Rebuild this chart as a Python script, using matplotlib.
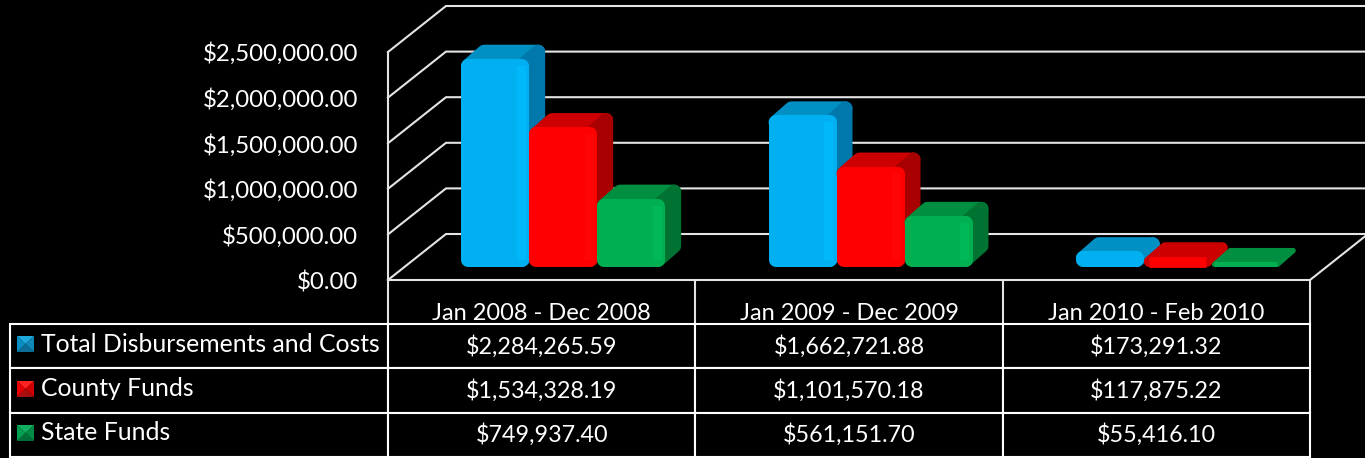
import matplotlib
matplotlib.use("Agg")
import matplotlib.pyplot as plt
from matplotlib.patches import Polygon
from matplotlib.transforms import Affine2D

categories = ["Jan 2008 - Dec 2008", "Jan 2009 - Dec 2009", "Jan 2010 - Feb 2010"]
series_names = ["Total Disbursements and Costs", "County Funds", "State Funds"]
total_costs = [2284265.59, 1662721.88, 173291.32]
county_funds = [1534328.19, 1101570.18, 117875.22]
state_funds = [749937.40, 561151.70, 55416.10]
y_ticks = [0, 500000, 1000000, 1500000, 2000000, 2500000]

series = [total_costs, county_funds, state_funds]
front_colors = ["#00B0F0", "#FF0000", "#00B050"]
light_colors = ["#00B8FA", "#FF0505", "#00B856"]
top_colors = ["#0090C4", "#CC0000", "#008F40"]
side_colors = ["#0078AC", "#A80000", "#007232"]
key_shades = [["#1FA8DC", "#0F88B8", "#0C6E96", "#0A8FC4"],
              ["#FF2020", "#D00000", "#A81010", "#E80000"],
              ["#10B060", "#008C44", "#007038", "#00A050"]]

W, H = 1365, 458
plt.rcParams["font.family"] = ["Lato", "DejaVu Sans"]
fig = plt.figure(figsize=(W / 100, H / 100), dpi=100, facecolor="black")
L, R, T, B = 388, 1310, 52, 280
ax = fig.add_axes([L / W, 1 - B / H, (R - L) / W, (B - T) / H], facecolor="black")
ax.set_xlim(0, 3)
ax.set_ylim(0, 2500000)
for s in ax.spines.values():
    s.set_visible(False)

px_x = 3 / (R - L)
px_y = 2500000 / (B - T)
wall_dx, wall_dy = 58 * px_x, 46 * px_y
line_c, line_w = "#E4E4E4", 1.5

# wall, floor and side grid
for v in y_ticks:
    ax.plot([0, wall_dx, 3 + wall_dx], [v, v + wall_dy, v + wall_dy],
            color=line_c, lw=line_w, clip_on=False, zorder=1, solid_joinstyle="miter")
ax.plot([0, 0], [0, 2500000], color=line_c, lw=line_w, clip_on=False, zorder=1)
ax.plot([0, 3, 3 + wall_dx], [0, 0, wall_dy], color=line_c, lw=line_w, clip_on=False, zorder=1)

# bars
bar_w = 68 * px_x
shift = 21.5 * px_x
base = 13 * px_y
dx, dy = 16 * px_x, 14 * px_y
for j, vals in enumerate(series):
    for i, v in enumerate(vals):
        cx = i + 0.5 + shift + (j - 1) * bar_w
        h_px = v / px_y
        r = min(7.0, h_px / 2)
        rx, ry = r * px_x, r * px_y
        x0, x1 = cx - bar_w / 2 + rx, cx + bar_w / 2 - rx
        y0, y1 = base + ry, base + v - ry
        lw = 2 * r * 0.72
        z = 3 + j
        side = side_colors[j] if h_px > 30 else top_colors[j]
        ax.add_patch(Polygon([(x0, y1), (x0 + dx, y1 + dy), (x1 + dx, y1 + dy), (x1, y1)],
                             closed=True, fc=top_colors[j], ec=top_colors[j], lw=lw,
                             joinstyle="round", clip_on=False, zorder=z))
        ax.add_patch(Polygon([(x1, y1), (x1 + dx, y1 + dy), (x1 + dx, y0 + dy), (x1, y0)],
                             closed=True, fc=side, ec=side, lw=lw,
                             joinstyle="round", clip_on=False, zorder=z))
        ax.bar(cx, v - 2 * ry, width=x1 - x0, bottom=y0, color=front_colors[j],
               edgecolor=front_colors[j], linewidth=lw, joinstyle="round", clip_on=False, zorder=z)
        if h_px > 30:
            ax.bar(x1 - 1 * px_x, v - 2 * ry, width=9 * px_x, bottom=y0,
                   color=light_colors[j], linewidth=0, clip_on=False, zorder=z)

# axis labels
ax.set_yticks(y_ticks)
ax.set_yticklabels([f"${v:,.2f}" for v in y_ticks], color="white", fontsize=17.3)
ax.tick_params(axis="y", length=0, pad=21.5)
ax.set_xticks([0.5, 1.5, 2.5])
ax.set_xticklabels(categories, color="white", fontsize=17)
ax.tick_params(axis="x", length=0, pad=16.5)

# header verticals
for xv in range(4):
    ax.plot([xv, xv], [0, -(324 - B) * px_y], color=line_c, lw=line_w, clip_on=False, zorder=1)

# data table
cell_text = [["", *[f"${v:,.2f}" for v in vals]] for vals in series]
tab_top, tab_bot = 324, 457
left = 10
col_w = [(L - left) / (R - left)] + [(R - L) / 3 / (R - left)] * 3
tab = ax.table(cellText=cell_text, colWidths=col_w, cellLoc="center",
               bbox=[(left - L) / (R - L), (B - tab_bot) / (B - T),
                     (R - left) / (R - L), (tab_bot - tab_top) / (B - T)], zorder=6)
tab.auto_set_font_size(False)
tab.set_fontsize(16.8)
for cell in tab.get_celld().values():
    cell.set_facecolor("black")
    cell.set_edgecolor("white")
    cell.set_linewidth(1.5)
    cell.get_text().set_color("white")

# row labels with legend keys (layout positions in reference pixels)
px = Affine2D().scale(1 / W, -1 / H).translate(0, 1) + fig.transFigure
row_y = [344, 389, 433]
for name, y, shades in zip(series_names, row_y, key_shades):
    fig.text(41, y, name, transform=px, color="white", fontsize=17.8, va="center", ha="left", zorder=10)
    xa, xb, ya, yb = 17, 34, y - 8, y + 8
    xm, ym = (xa + xb) / 2, (ya + yb) / 2
    tris = [[(xa, ya), (xb, ya), (xm, ym)], [(xb, ya), (xb, yb), (xm, ym)],
            [(xa, yb), (xb, yb), (xm, ym)], [(xa, ya), (xa, yb), (xm, ym)]]
    for tri, c in zip(tris, shades):
        fig.add_artist(Polygon(tri, closed=True, fc=c, ec="none", transform=px, zorder=10))

fig.savefig("out.png", dpi=100, facecolor="black")
